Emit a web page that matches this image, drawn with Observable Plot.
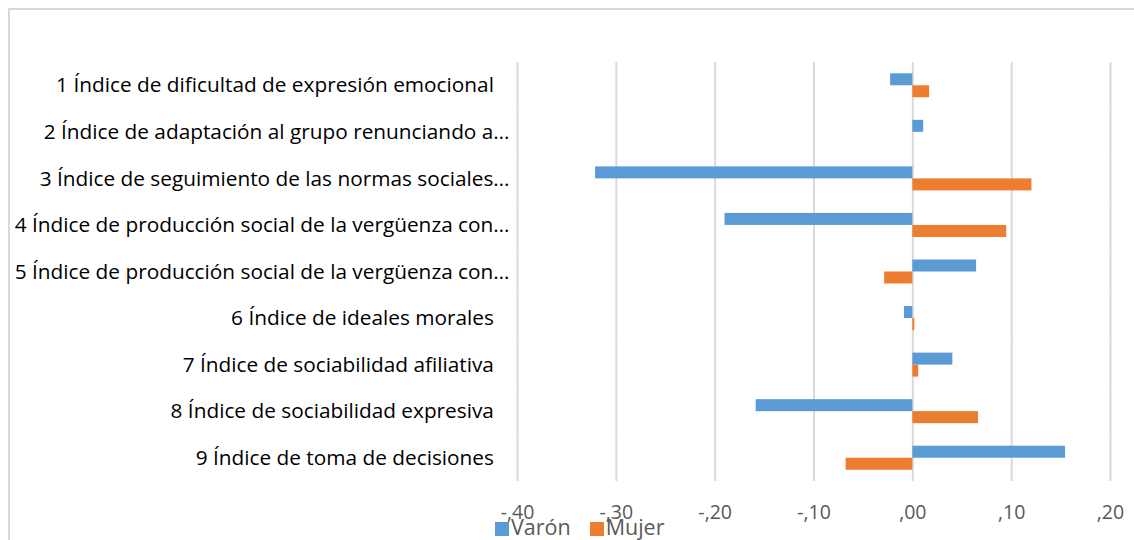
<!DOCTYPE html>
<html>
<head>
<meta charset="utf-8">
<script src="https://cdn.jsdelivr.net/npm/d3@7"></script>
<script src="https://cdn.jsdelivr.net/npm/@observablehq/plot@0.6"></script>
<style>
  html, body { margin: 0; padding: 0; background: #fff; }
  #wrap { position: relative; width: 1134px; height: 540px; overflow: hidden; font-family: "Open Sans", sans-serif; }
  #frame { position: absolute; left: 8px; top: 8px; width: 1200px; height: 600px; border-left: 2px solid #d9d9d9; border-top: 2px solid #d9d9d9; }
  #chart { position: absolute; left: 0; top: 0; }
  #legend { position: absolute; left: 495px; top: 513px; display: flex; align-items: center; font-size: 21.5px; line-height: 28px; color: #595959; }
  .item { display: flex; align-items: center; margin-right: 19px; }
  .sw { width: 14px; height: 14px; margin-right: 2px; margin-top: 4px; }
</style>
</head>
<body>
<div id="wrap">
  <div id="frame"></div>
  <div id="chart"></div>
  <div id="legend"></div>
</div>
<script>
const categories = [
  "1 Índice de dificultad de expresión emocional",
  "2 Índice de adaptación al grupo renunciando a…",
  "3 Índice de seguimiento de las normas sociales…",
  "4 Índice de producción social de la vergüenza con…",
  "5 Índice de producción social de la vergüenza con…",
  "6 Índice de ideales morales",
  "7 Índice de sociabilidad afiliativa",
  "8 Índice de sociabilidad expresiva",
  "9 Índice de toma de decisiones"
];
const seriesNames = ["Varón", "Mujer"];
const seriesColors = ["#5B9BD5", "#ED7D31"];
const varon = [-0.0225, 0.011, -0.321, -0.190, 0.0645, -0.0085, 0.0405, -0.1585, 0.1545];
const mujer = [0.017, 0.0, 0.1205, 0.095, -0.0285, 0.002, 0.006, 0.0665, -0.0675];
const tickValues = [-0.4, -0.3, -0.2, -0.1, 0, 0.1, 0.2];
const tickLabels = ["-,40", "-,30", "-,20", "-,10", ",00", ",10", ",20"];

const data = [];
categories.forEach((c, i) => {
  data.push({category: c, series: seriesNames[0], value: varon[i]});
  data.push({category: c, series: seriesNames[1], value: mujer[i]});
});

const chart = Plot.plot({
  width: 1134,
  height: 540,
  marginLeft: 517,
  marginRight: 24,
  marginTop: 62,
  marginBottom: 59,
  style: {fontFamily: "'Open Sans', sans-serif", fontSize: "20.8px", background: "transparent"},
  x: {domain: [-0.4, 0.2]},
  fy: {domain: categories, paddingInner: 0, paddingOuter: 0, round: false, label: null},
  y: {domain: seriesNames, paddingInner: 0, paddingOuter: 0.94, round: false, axis: null},
  color: {domain: seriesNames, range: seriesColors},
  marks: [
    Plot.ruleX(tickValues, {stroke: "#d9d9d9", strokeWidth: 2}),
    Plot.barX(data, {fy: "category", y: "series", x: "value", fill: "series"}),
    Plot.axisX({
      ticks: tickValues,
      tickFormat: (d) => tickLabels[tickValues.indexOf(d)],
      tickSize: 0,
      tickPadding: 24,
      fill: "#595959",
      fontSize: 19.5,
      label: null
    }),
    Plot.axisFy({
      anchor: "left",
      tickSize: 0,
      tickPadding: 8,
      fill: "#000",
      label: null,
      tickFormat: (d) => d.endsWith("…") ? d : d + "\u2002\u2005"
    })
  ]
});
document.getElementById("chart").appendChild(chart);

const legend = document.getElementById("legend");
seriesNames.forEach((s, i) => {
  const item = document.createElement("div");
  item.className = "item";
  const sw = document.createElement("span");
  sw.className = "sw";
  sw.style.background = seriesColors[i];
  const t = document.createElement("span");
  t.textContent = s;
  item.appendChild(sw);
  item.appendChild(t);
  legend.appendChild(item);
});
</script>
</body>
</html>
